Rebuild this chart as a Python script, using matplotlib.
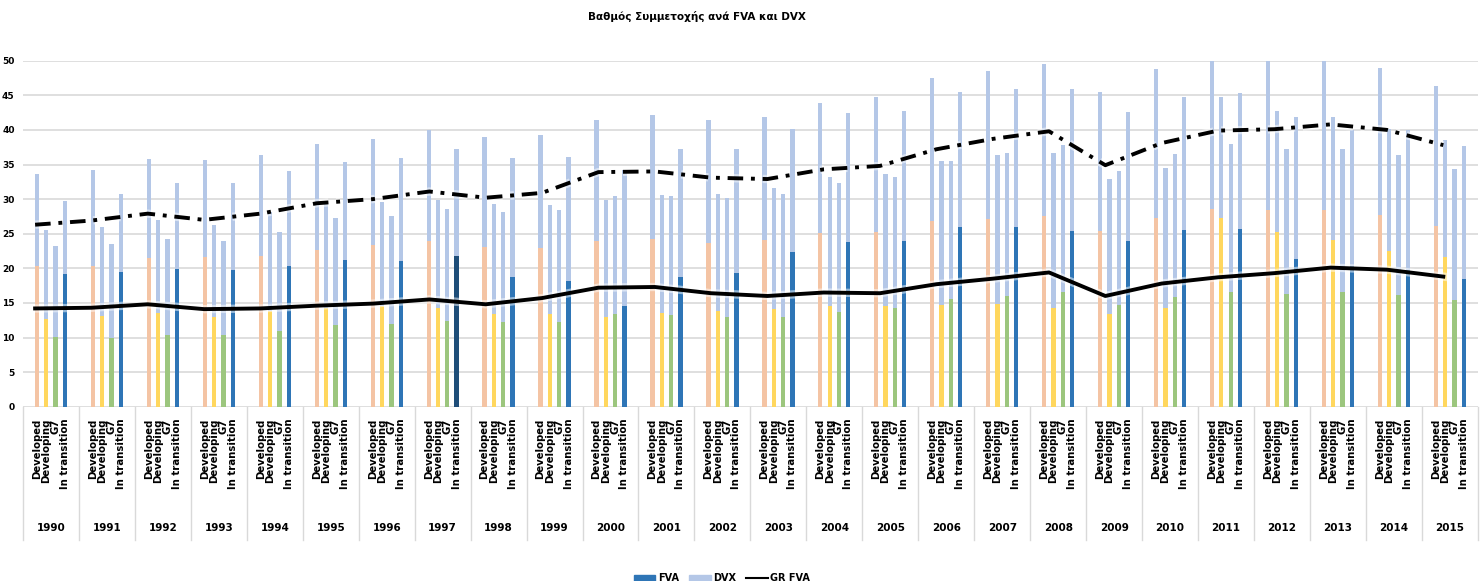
import numpy as np
import matplotlib
matplotlib.use('Agg')
import matplotlib.pyplot as plt
import matplotlib.patheffects as pe
from matplotlib.lines import Line2D
from matplotlib.patches import Patch

plt.rcParams['font.family'] = ['DejaVu Sans']

# Δεδομένα
years = list(range(1990, 2016))
categories = ['Developed', 'Developing', 'G7', 'In transition']

fva_developed = [20.3, 20.3, 21.5, 21.6, 21.8, 22.7, 23.4, 23.9, 23.1, 23.0,
                 23.9, 24.2, 23.7, 24.1, 25.1, 25.3, 26.8, 27.1, 27.6, 25.4,
                 27.3, 28.6, 28.4, 28.4, 27.7, 26.1]
fva_developing = [12.7, 13.1, 13.5, 13.0, 13.8, 14.3, 14.5, 14.2, 13.4, 13.4,
                  12.9, 13.6, 13.8, 14.1, 14.5, 14.5, 14.7, 14.9, 14.3, 13.4,
                  14.2, 27.3, 25.2, 24.1, 22.5, 21.6]
fva_g7 = [10.1, 10.0, 10.4, 10.3, 10.9, 11.8, 11.9, 12.4, 12.2, 12.3,
          13.4, 13.2, 13.0, 13.0, 13.7, 14.3, 15.5, 16.0, 16.6, 14.7,
          15.8, 16.6, 16.3, 16.6, 16.1, 15.4]
fva_transition = [19.2, 19.4, 19.9, 19.7, 20.4, 21.2, 21.1, 21.8, 18.7, 18.2,
                  14.6, 18.8, 19.3, 22.4, 23.8, 23.9, 26.0, 25.9, 25.4, 23.9,
                  25.5, 25.7, 21.4, 20.4, 19.7, 18.4]

# συνολικό ύψος (FVA + DVX)
tot_developed = [33.7, 34.2, 35.8, 35.6, 36.4, 38.0, 38.7, 40.0, 39.0, 39.2,
                 41.4, 42.1, 41.4, 41.9, 43.9, 44.7, 47.5, 48.5, 49.5, 45.5,
                 48.8, 50.5, 50.5, 50.5, 48.9, 46.3]
tot_developing = [25.5, 26.0, 27.0, 26.3, 28.1, 29.4, 29.6, 29.9, 29.3, 29.2,
                  29.8, 30.6, 30.7, 31.6, 33.2, 33.6, 35.5, 36.4, 36.6, 32.9,
                  34.5, 44.7, 42.8, 41.8, 40.2, 38.5]
tot_g7 = [23.2, 23.5, 24.2, 23.9, 25.2, 27.2, 27.6, 28.6, 28.2, 28.4,
          30.5, 30.4, 30.2, 30.7, 32.3, 33.2, 35.5, 36.6, 37.8, 34.1,
          36.5, 37.9, 37.3, 37.3, 36.4, 34.4]
tot_transition = [29.7, 30.7, 32.3, 32.4, 34.1, 35.4, 35.9, 37.2, 35.9, 36.1,
                  34.2, 37.3, 37.3, 40.1, 42.5, 42.7, 45.5, 45.9, 45.9, 42.6,
                  44.7, 45.3, 41.8, 40.0, 40.0, 37.7]

gr_fva = [14.2, 14.3, 14.8, 14.1, 14.2, 14.6, 14.9, 15.5, 14.8, 15.7,
          17.2, 17.3, 16.4, 16.0, 16.5, 16.4, 17.7, 18.5, 19.4, 16.0,
          17.8, 18.7, 19.3, 20.1, 19.8, 18.8]
gr_total = [26.3, 26.9, 27.9, 27.0, 27.9, 29.4, 30.0, 31.1, 30.2, 30.9,
            33.9, 34.0, 33.1, 32.9, 34.3, 34.8, 37.2, 38.7, 39.8, 34.9,
            38.1, 39.9, 40.1, 40.8, 40.0, 37.8]

fva_all = [fva_developed, fva_developing, fva_g7, fva_transition]
tot_all = [tot_developed, tot_developing, tot_g7, tot_transition]
fva_colors = ['#F4C4A4', '#FFD75E', '#9CC67E', '#2E75B6']
dvx_color = '#B4C7E7'

fig = plt.figure(figsize=(14.83, 5.81), dpi=100)
ax = fig.add_axes([0.0155, 0.300, 0.981, 0.5955])

n = len(years)
group = 6
bw = 0.46

for j in range(4):
    x = np.arange(n) * group + 1.5 + j
    fva = np.array(fva_all[j])
    dvx = np.array(tot_all[j]) - fva
    cols = [fva_colors[j]] * n
    if j == 3:
        cols[years.index(1997)] = '#1F4E79'
    ax.bar(x, fva, width=bw, color=cols, zorder=2)
    ax.bar(x, dvx, width=bw, bottom=fva, color=dvx_color, zorder=2)

# γραμμές
xl = np.linspace(1.3, 152.3, n)
glow = [pe.withStroke(linewidth=6, foreground='white', alpha=0.5)]
ax.plot(xl, gr_total, color='black', lw=2.8, linestyle=(0, (4, 2, 1, 2)),
        zorder=4, path_effects=glow)
ax.plot(xl, gr_fva, color='black', lw=2.8, zorder=4, path_effects=glow)

ax.set_xlim(0, n * group)
ax.set_ylim(0, 50)
ax.set_yticks(range(0, 51, 5))
ax.yaxis.grid(True, color='#D9D9D9', lw=1.2, zorder=0)
ax.set_axisbelow(True)
for s in ax.spines.values():
    s.set_visible(False)
ax.tick_params(axis='y', length=0, labelsize=6.5, pad=6)
for lbl in ax.get_yticklabels():
    lbl.set_fontweight('bold')
ax.set_xticks([])

# ετικέτες κατηγοριών και ετών
for i, yr in enumerate(years):
    for j, c in enumerate(categories):
        ax.text(i * group + 1.5 + j, -0.035, c, transform=ax.get_xaxis_transform(),
                rotation=90, ha='center', va='top', fontsize=7.3, fontweight='bold')
    ax.text(i * group + 3, -0.35, str(yr), transform=ax.get_xaxis_transform(),
            ha='center', va='center', fontsize=7.5, fontweight='bold')
for i in range(n + 1):
    ax.plot([i * group, i * group], [0, -0.385], transform=ax.get_xaxis_transform(),
            color='#D9D9D9', lw=1, clip_on=False)

fig.text(0.47, 0.971, 'Βαθμός Συμμετοχής ανά FVA και DVX', ha='center', va='center',
         fontsize=7.5, fontweight='bold')

handles = [Patch(color='#2E75B6', label='FVA'),
           Patch(color=dvx_color, label='DVX'),
           Line2D([], [], color='black', lw=1.5, label='GR FVA')]
fig.legend(handles=handles, loc='center', bbox_to_anchor=(0.487, 0.005), ncol=3,
           frameon=False, prop={'size': 7, 'weight': 'bold'}, handlelength=2.2,
           handleheight=0.6, columnspacing=1.0, handletextpad=0.3)

fig.savefig('out.png', dpi=100)
